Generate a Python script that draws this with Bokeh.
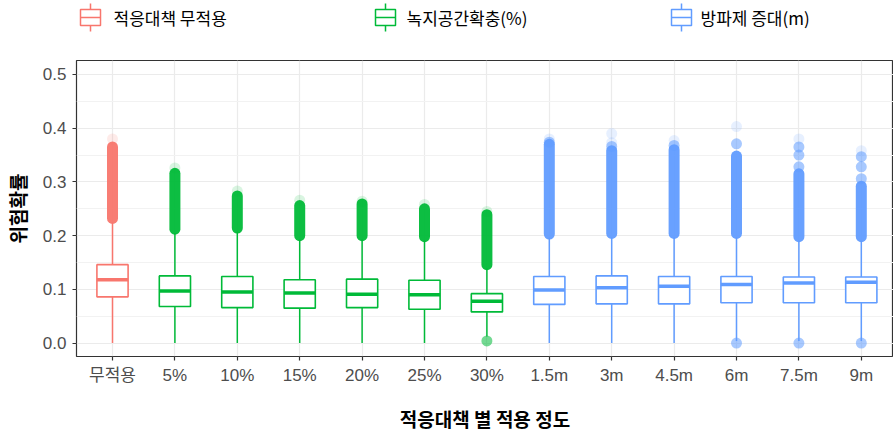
from bokeh.plotting import figure
from bokeh.layouts import column
from bokeh.models import Range1d, FixedTicker, ColumnDataSource
from bokeh.core.properties import value
from bokeh.embed import file_html
from bokeh.resources import INLINE

# ---------------- data ----------------
categories = ["무적용", "5%", "10%", "15%", "20%", "25%", "30%",
              "1.5m", "3m", "4.5m", "6m", "7.5m", "9m"]
group_of = [0, 1, 1, 1, 1, 1, 1, 2, 2, 2, 2, 2, 2]
group_names = ["적응대책 무적용", "녹지공간확충(%)", "방파제 증대(m)"]
group_colors = ["#F8766D", "#00BA38", "#619CFF"]

q1 = [0.086, 0.068, 0.066, 0.065, 0.066, 0.063, 0.058, 0.072, 0.073, 0.073, 0.075, 0.075, 0.075]
med = [0.118, 0.097, 0.095, 0.093, 0.091, 0.090, 0.078, 0.099, 0.103, 0.106, 0.109, 0.112, 0.113]
q3 = [0.146, 0.125, 0.124, 0.118, 0.119, 0.117, 0.092, 0.124, 0.125, 0.124, 0.124, 0.123, 0.123]
whisk_lo = [0.0, 0.0, 0.0, 0.0, 0.0, 0.0, 0.012, 0.0, 0.0, 0.0, 0.004, 0.004, 0.004]
whisk_hi = [0.225, 0.205, 0.207, 0.193, 0.193, 0.191, 0.139, 0.196, 0.197, 0.197, 0.197, 0.191, 0.191]
# dense band of upper outliers (lowest / highest point centres)
out_lo = [0.232, 0.212, 0.214, 0.200, 0.200, 0.198, 0.146, 0.203, 0.204, 0.204, 0.204, 0.198, 0.198]
out_hi = [0.365, 0.316, 0.274, 0.256, 0.259, 0.250, 0.239, 0.370, 0.358, 0.360, 0.348, 0.315, 0.292]
# sparse individual outliers (category index, value)
sparse_cat = [10, 7, 8, 9, 11, 11, 11, 12, 12, 12, 6, 10, 11, 12]
sparse_val = [0.371, 0.374, 0.366, 0.368, 0.365, 0.350, 0.328, 0.347, 0.328, 0.306, 0.004, 0.0, 0.0, 0.0]
# faint top outliers
faint_cat = [0, 1, 2, 3, 4, 5, 6, 7, 8, 8, 9, 10, 11, 12]
faint_val = [0.380, 0.326, 0.283, 0.266, 0.264, 0.258, 0.245, 0.380, 0.390, 0.373, 0.377, 0.403, 0.380, 0.358]

y_ticks = [0.0, 0.1, 0.2, 0.3, 0.4, 0.5]

KR = "Noto Sans CJK KR"
NUM = "Liberation Sans, Noto Sans CJK KR"
BOX_HALF = 0.25

# ---------------- main figure ----------------
xs = list(range(len(categories)))
cols = [group_colors[g] for g in group_of]

p = figure(width=893, height=392, output_backend="svg", toolbar_location=None,
           x_range=Range1d(-0.577, 12.516), y_range=Range1d(-0.025, 0.526),
           min_border_left=76, min_border_right=0, min_border_top=15, min_border_bottom=81)
p.background_fill_color = "white"
p.border_fill_color = "white"
p.outline_line_color = "#333333"
p.outline_line_width = 1.2

# grids
p.xgrid.ticker = FixedTicker(ticks=xs)
p.xgrid.grid_line_color = "#EBEBEB"
p.xgrid.grid_line_width = 1.2
p.ygrid.ticker = FixedTicker(ticks=y_ticks, minor_ticks=[0.05, 0.15, 0.25, 0.35, 0.45])
p.ygrid.grid_line_color = "#EBEBEB"
p.ygrid.grid_line_width = 1.2
p.ygrid.minor_grid_line_color = "#F2F2F2"
p.ygrid.minor_grid_line_width = 1.0

# axes
p.xaxis.ticker = FixedTicker(ticks=xs)
p.xaxis.major_label_overrides = {i: c for i, c in enumerate(categories)}
p.yaxis.ticker = FixedTicker(ticks=y_ticks)
p.yaxis.major_label_overrides = {t: f"{t:.1f}" for t in y_ticks}
for ax in (p.xaxis, p.yaxis):
    ax.axis_line_color = None
    ax.major_tick_line_color = "#333333"
    ax.major_tick_line_width = 1.2
    ax.major_tick_out = 4
    ax.major_tick_in = 0
    ax.minor_tick_line_color = None
    ax.major_label_text_color = "#4D4D4D"
    ax.major_label_text_font_size = "17px"
    ax.axis_label_text_font = KR
    ax.axis_label_text_font_style = "bold"
    ax.axis_label_text_font_size = "19px"
    ax.axis_label_text_color = "black"
p.xaxis.major_label_text_font = NUM
p.yaxis.major_label_text_font = "Liberation Sans"
p.xaxis.major_label_standoff = 5
p.yaxis.major_label_standoff = 6
p.xaxis.axis_label = "적응대책 별 적용 정도"
p.yaxis.axis_label = "위험확률"
p.xaxis.axis_label_standoff = 17
p.yaxis.axis_label_standoff = 9

src = ColumnDataSource(dict(x=xs, xl=[x - BOX_HALF for x in xs], xr=[x + BOX_HALF for x in xs],
                            q1=q1, med=med, q3=q3, wlo=whisk_lo, whi=whisk_hi,
                            olo=out_lo, ohi=out_hi, col=cols))

# dense outlier bands
p.segment(x0="x", y0="olo", x1="x", y1="ohi", source=src, line_color="col",
          line_width=11, line_cap="round", line_alpha=0.95)
# faint / sparse outliers
p.scatter(x=faint_cat, y=faint_val, size=11, color=[cols[i] for i in faint_cat],
          alpha=0.15, line_color=None)
p.scatter(x=sparse_cat, y=sparse_val, size=11, color=[cols[i] for i in sparse_cat],
          alpha=0.55, line_color=None)
# whiskers
p.segment(x0="x", y0="wlo", x1="x", y1="q1", source=src, line_color="col", line_width=1.5)
p.segment(x0="x", y0="q3", x1="x", y1="whi", source=src, line_color="col", line_width=1.5)
# boxes
p.quad(left="xl", right="xr", bottom="q1", top="q3",
       source=src, fill_color="white", line_color="col", line_width=1.6)
# medians
p.segment(x0="xl", y0="med", x1="xr", y1="med",
          source=src, line_color="col", line_width=3.5)

# ---------------- legend strip (frame aligned with main frame: page x 76..893) ----------------
lg = figure(width=893, height=45, output_backend="svg", toolbar_location=None,
            x_range=Range1d(76, 893), y_range=Range1d(45, 0),
            min_border_left=76, min_border_right=0, min_border_top=0, min_border_bottom=0)
lg.axis.visible = False
lg.grid.visible = False
lg.outline_line_color = None
lg.background_fill_color = "white"
lg.border_fill_color = "white"

icon_x = [90, 385, 681]       # icon centres (page x)
text_x = [113, 406, 700]
icy = 17
for i, name in enumerate(group_names):
    c = group_colors[i]
    cx = icon_x[i]
    lg.segment(x0=[cx], y0=[icy - 14], x1=[cx], y1=[icy + 14], line_color=c, line_width=1.5)
    lg.quad(left=[cx - 10], right=[cx + 10], top=[icy - 8], bottom=[icy + 8],
            fill_color="white", line_color=c, line_width=1.5)
    lg.segment(x0=[cx - 10], y0=[icy], x1=[cx + 10], y1=[icy], line_color=c, line_width=1.5)
    lg.text(x=[text_x[i]], y=[icy], text=[name], text_font=value(KR),
            text_font_size="17px", text_color="black", text_baseline="middle",
            text_align="left")

layout = column(lg, p, spacing=0)
open("out.html", "w").write(file_html(layout, INLINE))
